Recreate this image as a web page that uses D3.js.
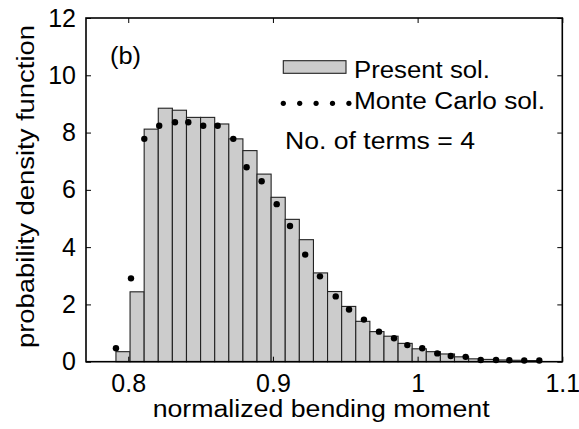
<!DOCTYPE html>
<html>
<head>
<meta charset="utf-8">
<script src="https://cdn.jsdelivr.net/npm/d3@7"></script>
<style>
  html, body { margin: 0; padding: 0; background: #fff; }
  svg text { font-family: "Liberation Sans", Arial, Helvetica, sans-serif; fill: #000; }
</style>
</head>
<body>
<svg id="chart" width="579" height="429"></svg>
<script>
// Histogram of the present solution (bin start, bin width, density per bin)
const binStart = 0.7915;
const binWidth = 0.00975;
const presentDensity = [
  0.35, 2.44, 8.12, 8.85, 8.78, 8.53, 8.53, 8.30, 7.78, 7.37,
  6.55, 5.74, 4.97, 4.26, 3.10, 2.45, 1.93, 1.41, 1.05, 0.89,
  0.64, 0.45, 0.35, 0.27, 0.17, 0.10, 0.08, 0.06, 0.05, 0.04
];

// Monte Carlo solution points
const mcMoment = [
  0.7915, 0.8019, 0.8111, 0.8214, 0.8323, 0.8415, 0.8518, 0.8618, 0.8726, 0.8818,
  0.8922, 0.9026, 0.9118, 0.9223, 0.9325, 0.9434, 0.9526, 0.9629, 0.9733, 0.9837,
  0.9929, 1.0032, 1.0136, 1.0229, 1.0332, 1.0436, 1.0542, 1.0634, 1.0737, 1.0841
];
const mcDensity = [
  0.47, 2.91, 7.78, 8.24, 8.36, 8.36, 8.24, 8.24, 7.78, 6.79,
  6.30, 5.50, 4.74, 3.74, 2.98, 2.28, 1.82, 1.47, 1.05, 0.82,
  0.58, 0.47, 0.29, 0.20, 0.17, 0.06, 0.06, 0.05, 0.04, 0.04
];

const xTicks = [0.8, 0.9, 1.0, 1.1];
const xTickLabels = ["0.8", "0.9", "1", "1.1"];
const yTicks = [0, 2, 4, 6, 8, 10, 12];

const xLabel = "normalized bending moment";
const yLabel = "probability density function";
const legendLabels = ["Present sol.", "Monte Carlo sol."];
const panelLabel = "(b)";
const noteLabel = "No. of terms = 4";

const svg = d3.select("#chart");
const plot = { left: 86, right: 562.3, top: 18, bottom: 361.7 };

const x = d3.scaleLinear().domain([0.7708, 1.1]).range([plot.left, plot.right]);
const y = d3.scaleLinear().domain([0, 12]).range([plot.bottom, plot.top]);

const bins = presentDensity.map((d, i) => ({
  x0: binStart + i * binWidth,
  x1: binStart + (i + 1) * binWidth,
  v: d
}));

// bars
svg.append("g")
  .selectAll("rect")
  .data(bins)
  .join("rect")
  .attr("x", d => x(d.x0))
  .attr("y", d => y(d.v))
  .attr("width", d => x(d.x1) - x(d.x0))
  .attr("height", d => y(0) - y(d.v))
  .attr("fill", "#cccccc")
  .attr("stroke", "#222")
  .attr("stroke-width", 1.1);

// Monte Carlo dots
svg.append("g")
  .selectAll("circle")
  .data(mcMoment.map((m, i) => [m, mcDensity[i]]))
  .join("circle")
  .attr("cx", d => x(d[0]))
  .attr("cy", d => y(d[1]))
  .attr("r", 3.2)
  .attr("fill", "#000");

// axes (ticks pointing inward on all four sides)
const tickLen = 5;
const axisFont = 25;
const labelFont = 23;

const gBottom = svg.append("g").attr("transform", `translate(0,${plot.bottom})`)
  .call(d3.axisBottom(x).tickValues(xTicks).tickSizeInner(-tickLen).tickSizeOuter(0)
    .tickFormat((d, i) => xTickLabels[i]));
gBottom.selectAll("text").attr("y", 13).attr("dy", "0.71em").style("font-size", axisFont + "px");

const gTop = svg.append("g").attr("transform", `translate(0,${plot.top})`)
  .call(d3.axisTop(x).tickValues(xTicks).tickSizeInner(-tickLen).tickSizeOuter(0).tickFormat(""));

const gLeft = svg.append("g").attr("transform", `translate(${plot.left},0)`)
  .call(d3.axisLeft(y).tickValues(yTicks).tickSizeInner(-tickLen).tickSizeOuter(0).tickFormat(d3.format("d")));
gLeft.selectAll("text").attr("x", -10).style("font-size", axisFont + "px");

const gRight = svg.append("g").attr("transform", `translate(${plot.right},0)`)
  .call(d3.axisRight(y).tickValues(yTicks).tickSizeInner(-tickLen).tickSizeOuter(0).tickFormat(""));

[gBottom, gTop, gLeft, gRight].forEach(g => {
  g.select(".domain").remove();
  g.selectAll("line").attr("stroke", "#000").attr("stroke-width", 1);
  g.selectAll("text").attr("fill", "#000").style("font-family", "'Liberation Sans', Arial, sans-serif");
});

// frame
svg.append("rect")
  .attr("x", plot.left).attr("y", plot.top)
  .attr("width", plot.right - plot.left).attr("height", plot.bottom - plot.top)
  .attr("fill", "none").attr("stroke", "#000").attr("stroke-width", 1.6);

// axis titles
svg.append("text")
  .attr("x", (plot.left + plot.right) / 2 - 3).attr("y", 416.5)
  .attr("text-anchor", "middle")
  .attr("textLength", 337).attr("lengthAdjust", "spacingAndGlyphs")
  .style("font-size", labelFont + "px")
  .text(xLabel);

svg.append("text")
  .attr("transform", `translate(34,186.5) rotate(-90)`)
  .attr("text-anchor", "middle")
  .attr("textLength", 323).attr("lengthAdjust", "spacingAndGlyphs")
  .style("font-size", labelFont + "px")
  .text(yLabel);

// panel label
svg.append("text")
  .attr("x", 110).attr("y", 64)
  .attr("textLength", 31).attr("lengthAdjust", "spacingAndGlyphs")
  .style("font-size", labelFont + "px")
  .text(panelLabel);

// legend
const leg = svg.append("g");
leg.append("rect")
  .attr("x", 283.3).attr("y", 60.7).attr("width", 62.7).attr("height", 12.6)
  .attr("fill", "#cccccc").attr("stroke", "#222").attr("stroke-width", 1.1);
leg.append("text")
  .attr("x", 354).attr("y", 77.5)
  .attr("textLength", 136).attr("lengthAdjust", "spacingAndGlyphs")
  .style("font-size", labelFont + "px")
  .text(legendLabels[0]);

leg.append("g")
  .selectAll("circle")
  .data(d3.range(5))
  .join("circle")
  .attr("cx", i => 283.3 + i * 16.4)
  .attr("cy", 103.3)
  .attr("r", 2.6)
  .attr("fill", "#000");
leg.append("text")
  .attr("x", 354).attr("y", 108.8)
  .attr("textLength", 191).attr("lengthAdjust", "spacingAndGlyphs")
  .style("font-size", labelFont + "px")
  .text(legendLabels[1]);

svg.append("text")
  .attr("x", 285).attr("y", 148.8)
  .attr("textLength", 190).attr("lengthAdjust", "spacingAndGlyphs")
  .style("font-size", labelFont + "px")
  .text(noteLabel);
</script>
</body>
</html>
